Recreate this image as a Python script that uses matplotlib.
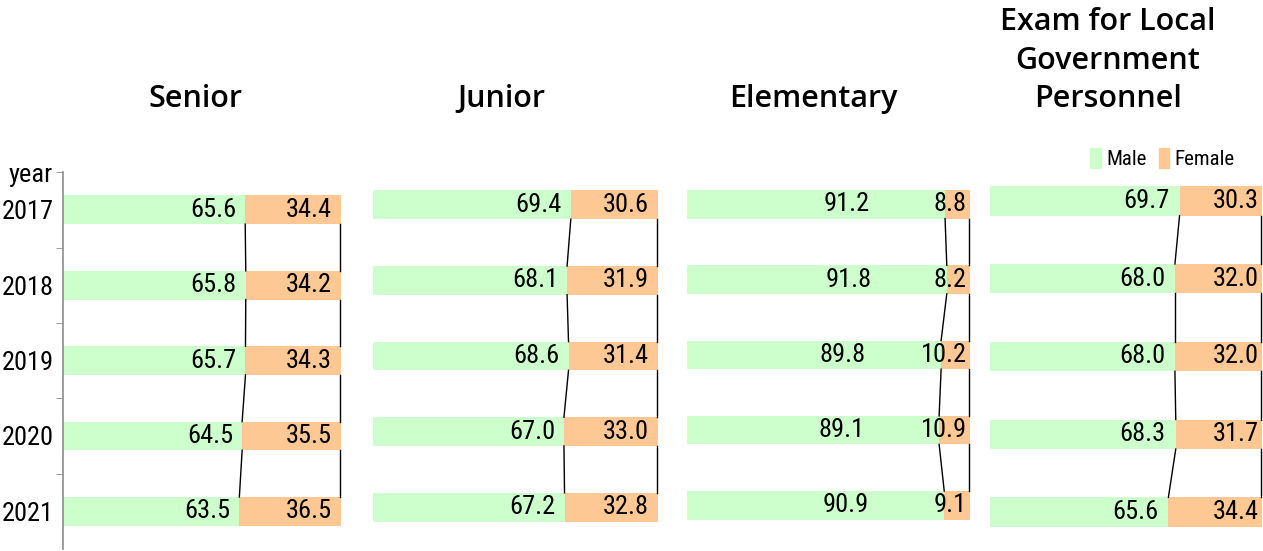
import matplotlib
matplotlib.use("Agg")
import matplotlib.pyplot as plt
from matplotlib.patches import Patch

# data, percent
years = ["2017", "2018", "2019", "2020", "2021"]
titles = ["Senior", "Junior", "Elementary", "Exam for Local\nGovernment\nPersonnel"]
male_senior = [65.6, 65.8, 65.7, 64.5, 63.5]
male_junior = [69.4, 68.1, 68.6, 67.0, 67.2]
male_elem = [91.2, 91.8, 89.8, 89.1, 90.9]
male_exam = [69.7, 68.0, 68.0, 68.3, 65.6]
female_senior = [34.4, 34.2, 34.3, 35.5, 36.5]
female_junior = [30.6, 31.9, 31.4, 33.0, 32.8]
female_elem = [8.8, 8.2, 10.2, 10.9, 9.1]
female_exam = [30.3, 32.0, 32.0, 31.7, 34.4]

GREEN = "#ccffcc"
PEACH = "#fec895"
NUM_FONT = ["Roboto Condensed", "DejaVu Sans"]
NUM_KW = dict(family=NUM_FONT, fontstretch="condensed", fontsize=19)
TITLE_FONT = ["Open Sans", "DejaVu Sans"]

# panel boxes in figure fraction (left, bottom, width, height)
boxes = [
    (0.0495, 0.0036, 0.2205, 0.684),
    (0.2953, 0.0109, 0.2257, 0.686),
    (0.5439, 0.0145, 0.2241, 0.683),
    (0.7838, 0.0000, 0.2154, 0.706),
]
title_pos = [(0.155, 0.820), (0.397, 0.820), (0.644, 0.820), (0.877, 0.890)]
male_pad = [-9, -9, -75, -10]
female_pad = [-9, -9, -3, -3]


def draw_panel(ax, male, female, mpad, fpad):
    y = list(range(len(male)))
    h = 0.38
    ax.barh(y, male, height=h, color=GREEN)
    ax.barh(y, female, left=male, height=h, color=PEACH)
    # connector lines between consecutive bars
    for i in range(len(male) - 1):
        ax.plot([male[i], male[i + 1]], [y[i] + h / 2, y[i + 1] - h / 2],
                color="black", lw=1.0)
        ax.plot([99.8, 99.8], [y[i] + h / 2, y[i + 1] - h / 2],
                color="black", lw=1.0, clip_on=False)
    for i in range(len(male)):
        ax.annotate(f"{male[i]:.1f}", (male[i], y[i]), xytext=(mpad, 0),
                    textcoords="offset pixels", ha="right", va="center", **NUM_KW)
        ax.annotate(f"{female[i]:.1f}", (100, y[i]), xytext=(fpad, 0),
                    textcoords="offset pixels", ha="right", va="center", **NUM_KW)
    ax.set_xlim(0, 100)
    ax.set_ylim(len(male) - 0.5, -0.5)
    for s in ax.spines.values():
        s.set_visible(False)
    ax.set_xticks([])
    ax.set_yticks([])


fig = plt.figure(figsize=(12.63, 5.51), dpi=100)
males = [male_senior, male_junior, male_elem, male_exam]
females = [female_senior, female_junior, female_elem, female_exam]
axes = []
for k in range(4):
    ax = fig.add_axes(boxes[k])
    draw_panel(ax, males[k], females[k], male_pad[k], female_pad[k])
    fig.text(title_pos[k][0], title_pos[k][1], titles[k], ha="center", va="center",
             fontsize=22, fontweight="semibold", family=TITLE_FONT, linespacing=1.38)
    axes.append(ax)

# year axis on first panel
ax0 = axes[0]
ax0.spines["left"].set_visible(True)
ax0.spines["left"].set_color("#8c8c8c")
ax0.spines["left"].set_linewidth(1.2)
ax0.set_yticks(range(len(years)))
ax0.set_yticklabels(years, **NUM_KW)
ax0.tick_params(axis="y", which="major", length=0, pad=6)
ax0.set_yticks([-0.5, 0.5, 1.5, 2.5, 3.5], minor=True)
ax0.set_yticklabels(["year", "", "", "", ""], minor=True, **NUM_KW)
ax0.tick_params(axis="y", which="minor", length=5, color="#8c8c8c", pad=2)

# legend on last panel
handles = [Patch(color=GREEN, label="Male"), Patch(color=PEACH, label="Female")]
axes[3].legend(handles=handles, ncol=2, loc="lower right", bbox_to_anchor=(0.93, 0.96),
               frameon=False, handlelength=0.5, handleheight=1.1, handletextpad=0.25,
               columnspacing=0.6, borderaxespad=0,
               prop={"family": NUM_FONT, "stretch": "condensed", "size": 15})

fig.savefig("out.png", dpi=100)
